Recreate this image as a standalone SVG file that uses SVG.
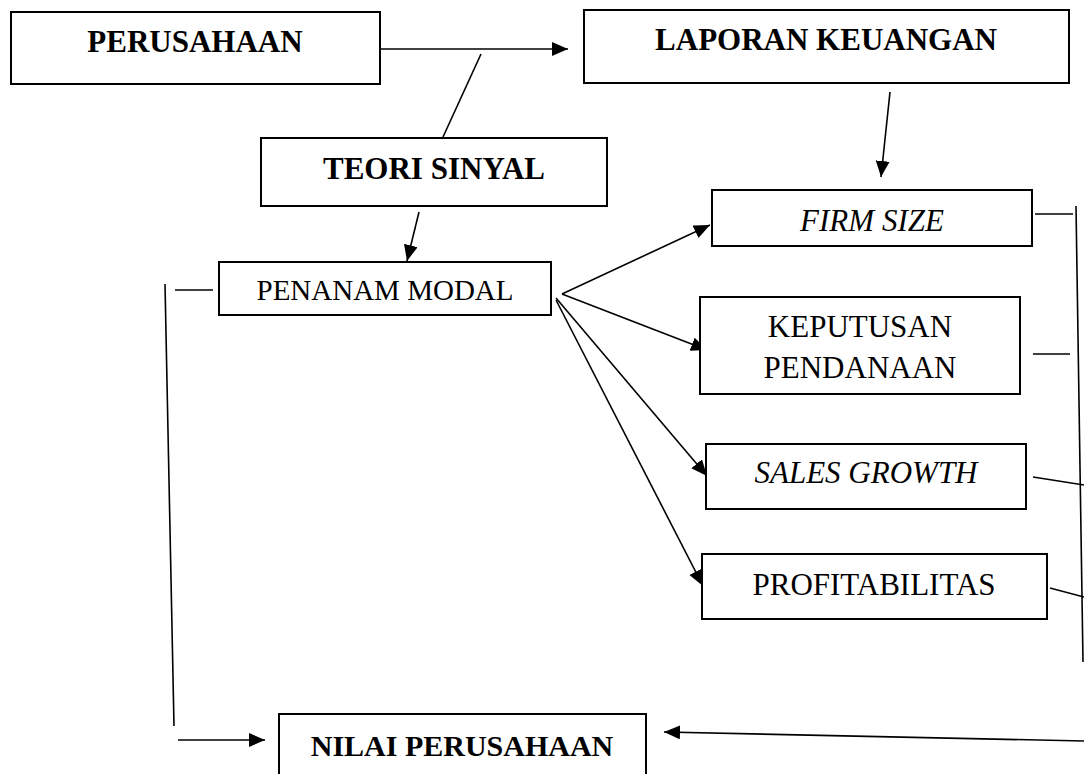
<svg xmlns="http://www.w3.org/2000/svg" width="1084" height="774" viewBox="0 0 1084 774">
<defs>
<style>
.box{fill:#fff;stroke:#000;stroke-width:2}
.ln{fill:none;stroke:#000;stroke-width:1.6}
.t{font-family:"Liberation Serif","Times New Roman",serif;fill:#000;text-anchor:middle}
.b{font-weight:bold;font-size:31px}
.r{font-size:31px}
.i{font-style:italic;font-size:31px}
</style>
<marker id="ah" markerUnits="userSpaceOnUse" markerWidth="17" markerHeight="15" refX="16" refY="7" orient="auto">
<path d="M0,0 L16,7 L0,14 Z" fill="#000"/>
</marker>
</defs>
<rect width="1084" height="774" fill="#fff"/>
<g id="connectors">
<line class="ln" x1="380" y1="49" x2="568" y2="49" marker-end="url(#ah)"/>
<line class="ln" x1="481" y1="54" x2="443" y2="137"/>
<line class="ln" x1="419" y1="212" x2="407" y2="261" marker-end="url(#ah)"/>
<line class="ln" x1="890" y1="92" x2="881" y2="177" marker-end="url(#ah)"/>
<line class="ln" x1="562" y1="294" x2="710" y2="225" marker-end="url(#ah)"/>
<line class="ln" x1="562" y1="294" x2="707" y2="350" marker-end="url(#ah)"/>
<line class="ln" x1="556" y1="298" x2="707" y2="476" marker-end="url(#ah)"/>
<line class="ln" x1="556" y1="300" x2="703" y2="586" marker-end="url(#ah)"/>
<line class="ln" x1="175" y1="290" x2="213" y2="290"/>
<line class="ln" x1="165" y1="284" x2="174" y2="726"/>
<line class="ln" x1="178" y1="740" x2="265" y2="740" marker-end="url(#ah)"/>
<line class="ln" x1="1035" y1="214" x2="1073" y2="214"/>
<line class="ln" x1="1033" y1="354" x2="1070" y2="354"/>
<line class="ln" x1="1033" y1="477" x2="1084" y2="485"/>
<line class="ln" x1="1050" y1="588" x2="1084" y2="597"/>
<line class="ln" x1="1076" y1="206" x2="1083" y2="662"/>
<line class="ln" x1="1084" y1="741" x2="664" y2="732" marker-end="url(#ah)"/>
</g>
<g id="perusahaan">
<rect class="box" x="11" y="12" width="369" height="72"/>
<text class="t b" x="195" y="52">PERUSAHAAN</text>
</g>
<g id="laporan-keuangan">
<rect class="box" x="584" y="10" width="485" height="73"/>
<text class="t b" x="826" y="50">LAPORAN KEUANGAN</text>
</g>
<g id="teori-sinyal">
<rect class="box" x="261" y="138" width="346" height="68"/>
<text class="t b" x="434" y="179">TEORI SINYAL</text>
</g>
<g id="penanam-modal">
<rect class="box" x="219" y="262" width="332" height="53"/>
<text class="t r" x="385" y="300" style="font-size:29px">PENANAM MODAL</text>
</g>
<g id="firm-size">
<rect class="box" x="712" y="190" width="320" height="56"/>
<text class="t i" x="872" y="231">FIRM SIZE</text>
</g>
<g id="keputusan-pendanaan">
<rect class="box" x="700" y="297" width="320" height="97"/>
<text class="t r" x="860" y="337">KEPUTUSAN</text>
<text class="t r" x="860" y="378">PENDANAAN</text>
</g>
<g id="sales-growth">
<rect class="box" x="706" y="444" width="320" height="65"/>
<text class="t i" x="866" y="483">SALES GROWTH</text>
</g>
<g id="profitabilitas">
<rect class="box" x="702" y="554" width="345" height="65"/>
<text class="t r" x="874" y="595">PROFITABILITAS</text>
</g>
<g id="nilai-perusahaan">
<rect class="box" x="279" y="714" width="367" height="70"/>
<text class="t b" x="462" y="756" style="font-size:30px">NILAI PERUSAHAAN</text>
</g>
</svg>
